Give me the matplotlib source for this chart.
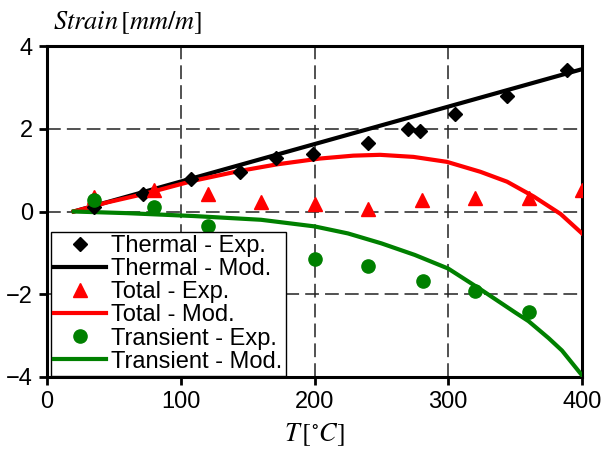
import matplotlib
matplotlib.use("Agg")
import matplotlib.pyplot as plt

plt.rcParams['font.family'] = ['Liberation Sans', 'DejaVu Sans']
plt.rcParams['mathtext.fontset'] = 'stix'

# experimental points
T_thermal_exp = [35, 72, 108, 144, 171, 199, 240, 270, 279, 305, 344, 389]
eps_thermal_exp = [0.1, 0.42, 0.78, 0.96, 1.3, 1.39, 1.65, 2.0, 1.95, 2.36, 2.8, 3.42]

T_total_exp = [35, 80, 120, 160, 200, 240, 280, 320, 360, 400]
eps_total_exp = [0.35, 0.52, 0.42, 0.24, 0.18, 0.06, 0.28, 0.32, 0.32, 0.52]

T_trans_exp = [35, 80, 120, 160, 200, 240, 281, 320, 360]
eps_trans_exp = [0.28, 0.1, -0.34, -0.69, -1.15, -1.31, -1.67, -1.92, -2.44]

# model curves
T_thermal_mod = [20, 400]
eps_thermal_mod = [0.0, 3.44]

T_total_mod = [20, 45, 72, 109, 144, 172, 204, 229, 249, 274, 299, 324, 344, 364, 384, 400]
eps_total_mod = [0.0, 0.22, 0.42, 0.74, 0.98, 1.14, 1.28, 1.35, 1.37, 1.32, 1.2, 0.96,
                 0.72, 0.36, -0.06, -0.53]

T_trans_mod = [20, 60, 110, 160, 175, 200, 225, 250, 275, 300, 325, 350, 360, 375, 385, 400]
eps_trans_mod = [0.0, -0.04, -0.11, -0.2, -0.26, -0.36, -0.53, -0.77, -1.05, -1.38,
                 -1.9, -2.44, -2.65, -3.06, -3.36, -3.96]

fig = plt.figure(figsize=(6.05, 4.62), dpi=100)
ax = fig.add_axes([0.0777, 0.184, 0.8843, 0.7164])

ax.plot(T_thermal_exp, eps_thermal_exp, 'D', color='black', ms=7, zorder=4,
        label='Thermal - Exp.')
ax.plot(T_thermal_mod, eps_thermal_mod, '-', color='black', lw=3, zorder=3,
        label='Thermal - Mod.')
ax.plot(T_total_exp, eps_total_exp, '^', color='#ff0000', ms=10, zorder=4,
        label='Total - Exp.')
ax.plot(T_total_mod, eps_total_mod, '-', color='#ff0000', lw=3, zorder=3,
        solid_joinstyle='round', label='Total - Mod.')
ax.plot(T_trans_exp, eps_trans_exp, 'o', color='#008000', ms=9.5, zorder=4,
        label='Transient - Exp.')
ax.plot(T_trans_mod, eps_trans_mod, '-', color='#008000', lw=3, zorder=3,
        solid_joinstyle='round', label='Transient - Mod.')

ax.set_xlim(0, 400)
ax.set_ylim(-4, 4)
ax.set_xticks([0, 100, 200, 300, 400])
ax.set_yticks([-4, -2, 0, 2, 4])
ax.grid(True, color='#222222', lw=1.1, linestyle=(0, (9, 4)))
ax.set_axisbelow(True)

for s in ax.spines.values():
    s.set_linewidth(2.2)
ax.tick_params(direction='out', length=6, width=2, labelsize=17, pad=4)

ax.set_xlabel(r'$T\,[^{\circ}C]$', fontsize=19, labelpad=6)
fig.text(0.087, 0.95, r'$Strain\,[mm/m]$', fontsize=19, ha='left', va='center')

leg = ax.legend(loc='upper left', bbox_to_anchor=(0.007, 0.438), borderaxespad=0,
                fontsize=17, labelspacing=0.05, handlelength=2.2,
                handletextpad=0.25, borderpad=0.12, fancybox=False,
                framealpha=1, edgecolor='black')
leg.get_frame().set_linewidth(1.0)

fig.savefig('out.png', dpi=100)
